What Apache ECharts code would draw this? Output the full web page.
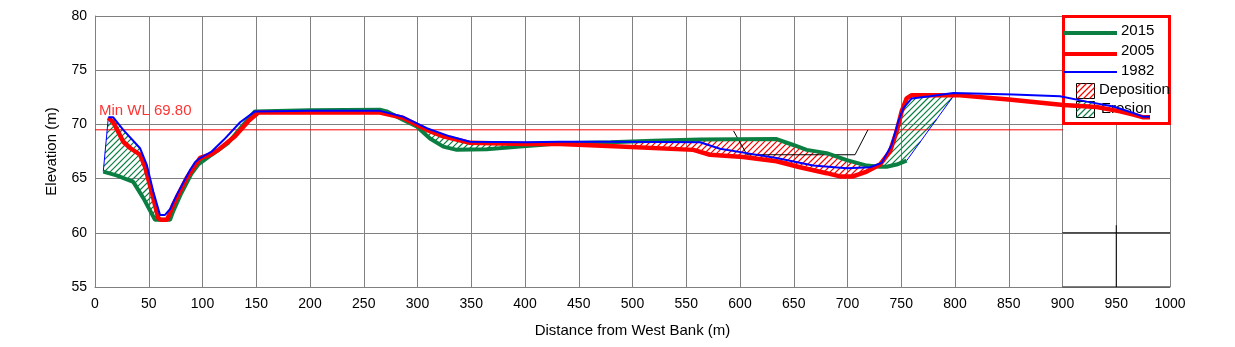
<!DOCTYPE html>
<html><head><meta charset="utf-8">
<script src="https://cdn.jsdelivr.net/npm/echarts@6/dist/echarts.min.js"></script>
<style>html,body{margin:0;padding:0;background:#fff}#c{width:1235px;height:347px}</style>
</head><body><div id="c"></div>
<script>
// ---- data (distance m, elevation m) ----
const s2015 = [[7.7,65.65],[20,65.3],[35.6,64.7],[45,63.2],[55.8,61.2],[69.8,61.2],[72.8,62.0],[80,63.6],[90,65.5],[96.1,66.3],[108.5,67.2],[124,68.3],[136.5,69.8],[148.8,71.2],[200,71.3],[265,71.35],[271.3,71.2],[286.8,70.4],[299.3,69.8],[311.6,68.7],[324,67.95],[336.5,67.65],[364.4,67.7],[395.3,67.95],[414,68.1],[432.6,68.25],[480,68.35],[519.4,68.5],[562.8,68.6],[634,68.65],[649.6,68.1],[662,67.65],[680.6,67.35],[699.3,66.7],[717.9,66.2],[730,66.1],[736.4,66.1],[745.7,66.3],[755,66.65]];
const s2005 = [[12.4,70.6],[17,70.2],[26.3,68.4],[33,67.8],[41.9,67.2],[46.5,66.1],[52.7,63.8],[58.9,61.35],[61,61.2],[67,61.2],[72.8,62.6],[85.3,65.05],[97.7,66.9],[107,67.2],[114.7,67.65],[130.2,68.9],[142.6,70.3],[151.9,71.1],[200,71.1],[265,71.1],[286.8,70.6],[308.6,69.5],[324,68.9],[348.8,68.3],[400,68.2],[432.6,68.2],[488.4,67.95],[556.6,67.65],[572,67.2],[603,67.0],[634,66.6],[655.8,66.05],[680.6,65.5],[693,65.2],[705,65.2],[717.9,65.65],[730.2,66.3],[739.5,67.5],[745.7,69.35],[750.4,71.2],[755,72.4],[759.7,72.7],[801.6,72.7],[850,72.3],[900.7,71.8],[931.8,71.6],[953.5,71.2],[965.9,70.9],[975.2,70.65],[981.4,70.65]];
const s1982 = [[12.4,70.65],[17,70.65],[26.3,69.5],[41.9,67.8],[48.1,66.3],[54.2,63.8],[60.5,61.65],[65.1,61.65],[70,62.2],[76,63.5],[88.4,65.8],[93,66.5],[97.7,66.9],[108.5,67.5],[120,68.6],[135,70.2],[148.8,71.2],[200,71.25],[265,71.25],[286.8,70.7],[308.6,69.65],[330,68.9],[348.8,68.4],[400,68.35],[432.6,68.4],[480,68.4],[562.8,68.35],[581.4,67.75],[606,67.35],[634,66.9],[668,66.2],[699.3,65.95],[721,66.05],[731.8,66.45],[741,68.1],[747.3,70.3],[752,71.5],[759.7,72.4],[776.7,72.6],[798.4,72.9],[854.2,72.75],[897.7,72.6],[922.5,72.1],[947.3,71.65],[965.9,71.05],[975.2,70.7],[981.4,70.7]];
const edgeLeft = [[7.7,65.65],[12.4,70.65]];
const edgeRight = [[755,66.65],[798.4,72.6]];
const channel = [[594,69.4],[606.5,67.2],[707,67.2],[719,69.5]];
const frameH = [[900,60],[1000,60]];
const frameV = [[950,55],[950,60.7]];
const frameB = [[900,55],[1000,55]];
const minWL = [[0,69.5],[900.5,69.5]];
const minWLLabel = 'Min WL 69.80';
const legendNames = ['2015','2005','1982','Deposition','Erosion'];
// hatch regions: [kind, from, to]
const regions = [['erosion',7.7,58],['erosion',268,430],['deposition',500,722],['erosion',728,798.4]];

const GREEN = '#0b7f42', RED = '#ff0000', BLUE = '#0000ff';

// diagonal "/" hatch segments clipped to a pixel polygon -> SVG path data
function hatchPath(pts, step){
  let lo = Infinity, hi = -Infinity;
  pts.forEach(p => { const s = p[0]+p[1]; if (s<lo) lo=s; if (s>hi) hi=s; });
  let d = '';
  for (let c = Math.ceil(lo/step)*step; c <= hi; c += step){
    const xs = [];
    for (let i=0;i<pts.length;i++){
      const p = pts[i], q = pts[(i+1)%pts.length];
      const sp = p[0]+p[1], sq = q[0]+q[1];
      if ((sp<=c && sq>c) || (sq<=c && sp>c)){
        const t = (c-sp)/(sq-sp);
        xs.push(p[0] + t*(q[0]-p[0]));
      }
    }
    xs.sort((a,b)=>a-b);
    for (let i=0;i+1<xs.length;i+=2)
      d += `M${xs[i].toFixed(2)} ${(c-xs[i]).toFixed(2)}L${xs[i+1].toFixed(2)} ${(c-xs[i+1]).toFixed(2)}`;
  }
  return d || 'M0 0';
}

function interp(arr, x){
  for (let i=0;i<arr.length-1;i++){
    const a=arr[i], b=arr[i+1];
    if (x>=a[0] && x<=b[0]) return a[1] + (b[1]-a[1])*(x-a[0])/(b[0]-a[0] || 1);
  }
  return x < arr[0][0] ? arr[0][1] : arr[arr.length-1][1];
}
function boundaries(kind, idx){
  if (idx===0) return [edgeLeft.concat(s1982.slice(1)), s2015];
  if (idx===3) return [s1982, s2015.concat(edgeRight.slice(1))];
  return kind==='erosion' ? [s2005, s2015] : [s2015, s2005];
}
function polyPts(idx){
  const [kind,a,b] = regions[idx];
  const [U,L] = boundaries(kind, idx);
  const pts = [[a, interp(U,a)]];
  U.forEach(p => { if (p[0]>a && p[0]<b) pts.push(p); });
  pts.push([b, interp(U,b)]);
  pts.push([b, interp(L,b)]);
  L.slice().reverse().forEach(p => { if (p[0]>a && p[0]<b) pts.push(p); });
  pts.push([a, interp(L,a)]);
  return pts;
}

const chart = echarts.init(document.getElementById('c'));
const FONT = 'Arial, "Liberation Sans", sans-serif';
const lineSeries = (data, color, width, z) => ({type:'line', data, showSymbol:false, symbol:'none', animation:false, silent:true,
  lineStyle:{color, width}, z: z||2});

function boxPts(b){ const [x,y,w,h]=b; return [[x,y],[x+w,y],[x+w,y+h],[x,y+h]]; }
const depBox = [1076.5,83.5,18,15], eroBox = [1076.5,101.5,18,16];
const legendHatch = [[depBox, RED], [eroBox, GREEN]];

chart.setOption({
  animation:false,
  backgroundColor:'#fff',
  grid:{left:95, right:65, top:16, bottom:60},
  xAxis:{type:'value', min:0, max:1000, interval:50,
    name:'Distance from West Bank (m)', nameLocation:'middle', nameGap:36,
    nameTextStyle:{color:'#000', fontSize:15, fontFamily:FONT},
    axisLine:{show:true, lineStyle:{color:'#808080'}}, axisTick:{show:false},
    axisLabel:{color:'#000', fontSize:14, fontFamily:FONT, margin:10, formatter:v=>String(v)},
    splitLine:{show:true, lineStyle:{color:'#808080', width:1}}},
  yAxis:{type:'value', min:55, max:80, interval:5,
    name:'Elevation (m)', nameLocation:'middle', nameGap:36,
    nameTextStyle:{color:'#000', fontSize:15, fontFamily:FONT},
    axisLine:{show:true, lineStyle:{color:'#808080'}}, axisTick:{show:false},
    axisLabel:{color:'#000', fontSize:14, fontFamily:FONT, margin:8},
    splitLine:{show:true, lineStyle:{color:'#808080', width:1}}},
  graphic:[
    {type:'rect', z:1, shape:{x:1063.5,y:16.5,width:106,height:107}, style:{fill:'#fff', stroke:RED, lineWidth:3}},
    {type:'line', z:1, shape:{x1:1064,y1:33,x2:1117,y2:33}, style:{stroke:GREEN, lineWidth:4}},
    {type:'line', z:1, shape:{x1:1064,y1:54,x2:1117,y2:54}, style:{stroke:RED, lineWidth:4}},
    {type:'line', z:1, shape:{x1:1064,y1:72,x2:1117,y2:72}, style:{stroke:BLUE, lineWidth:2}},
    {type:'rect', z:1, shape:{x:depBox[0],y:depBox[1],width:depBox[2],height:depBox[3]}, style:{fill:null, stroke:'#000', lineWidth:1}},
    {type:'rect', z:1, shape:{x:eroBox[0],y:eroBox[1],width:eroBox[2],height:eroBox[3]}, style:{fill:null, stroke:'#000', lineWidth:1}},
    {type:'text', z:1, style:{text:legendNames[0], x:1121, y:31, fill:'#000', fontSize:15, fontFamily:FONT, verticalAlign:'middle'}},
    {type:'text', z:1, style:{text:legendNames[1], x:1121, y:51, fill:'#000', fontSize:15, fontFamily:FONT, verticalAlign:'middle'}},
    {type:'text', z:1, style:{text:legendNames[2], x:1121, y:71, fill:'#000', fontSize:15, fontFamily:FONT, verticalAlign:'middle'}},
    {type:'text', z:1, style:{text:legendNames[3], x:1099, y:90, fill:'#000', fontSize:15, fontFamily:FONT, verticalAlign:'middle'}},
    {type:'text', z:1, style:{text:legendNames[4], x:1101, y:109, fill:'#000', fontSize:15, fontFamily:FONT, verticalAlign:'middle'}}
  ],
  series:[
    {type:'custom', z:2, silent:true, animation:false, clip:true,
      data: regions.map((r,i)=>[i]),
      renderItem:(params, api)=>{
        const i = params.dataIndex;
        const pts = polyPts(i).map(p=>api.coord(p));
        const color = regions[i][0]==='erosion' ? GREEN : RED;
        return {type:'path', shape:{pathData: hatchPath(pts, 6)}, style:{stroke:color, fill:'none', lineWidth:1.2}};
      }},
    // legend hatch swatches (pixel boxes, drawn above the legend background)
    {type:'custom', z:2, silent:true, animation:false, clip:false,
      data: legendHatch.map((r,i)=>[i]),
      renderItem:(params)=>{
        const [box, color] = legendHatch[params.dataIndex];
        return {type:'path', shape:{pathData: hatchPath(boxPts(box), 6)}, style:{stroke:color, fill:'none', lineWidth:1.2}};
      }},
    lineSeries(minWL, RED, 1),
    {type:'scatter', data:[minWL[0]], symbolSize:1, itemStyle:{color:'rgba(0,0,0,0)'}, silent:true, animation:false, z:3,
      label:{show:true, position:'top', align:'left', distance:0, offset:[4,-11], color:RED, fontSize:15, fontFamily:FONT,
        formatter:()=>minWLLabel}},
    lineSeries(channel, '#000', 1),
    lineSeries(frameH, '#000', 1),
    lineSeries(frameV, '#000', 1),
    lineSeries(frameB, '#000', 1),
    lineSeries(edgeLeft, BLUE, 1),
    lineSeries(edgeRight, BLUE, 1),
    lineSeries(s2015, GREEN, 4),
    lineSeries(s2005, RED, 4.5),
    lineSeries(s1982, BLUE, 2)
  ]
});
</script></body></html>
